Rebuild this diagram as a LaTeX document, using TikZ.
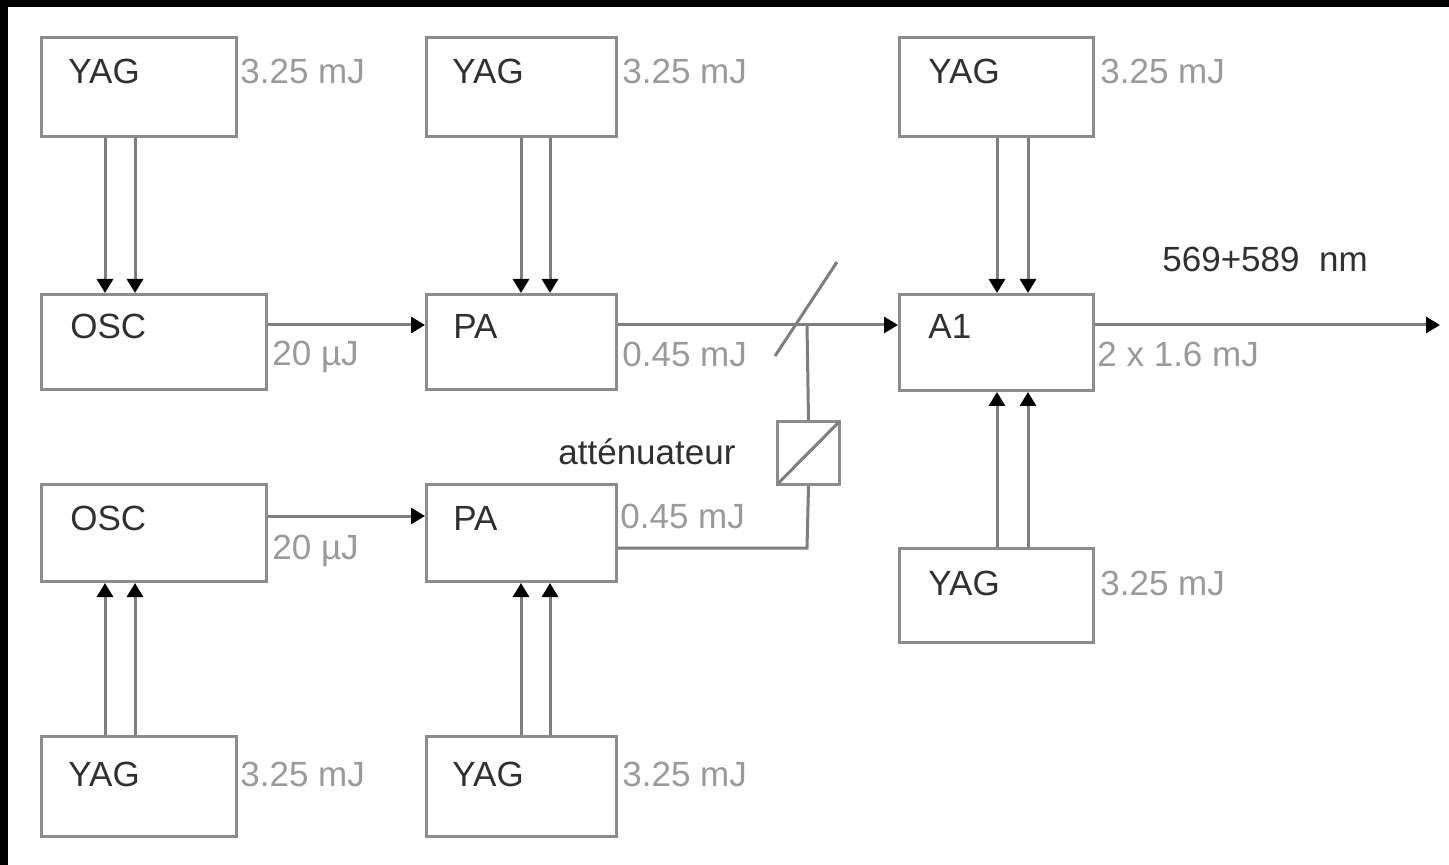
\documentclass[tikz,border=0pt]{standalone}
\usepackage{fontspec}
\setmainfont{Liberation Sans}
\usetikzlibrary{arrows.meta,calc}
\definecolor{boxgray}{HTML}{8C8C8C}
\definecolor{linegray}{HTML}{7E7E7E}
\definecolor{txtdark}{HTML}{303030}
\definecolor{txtlight}{HTML}{9A9A9A}
\begin{document}
\begin{tikzpicture}[x=0.5pt,y=-0.5pt,
  box/.style={draw=boxgray,line width=1.5pt,fill=white,rectangle,inner sep=0pt,anchor=north west},
  lab/.style={font=\fontsize{17.5}{20}\selectfont,text=txtdark,anchor=base west,inner sep=0pt},
  val/.style={font=\fontsize{17.5}{20}\selectfont,text=txtlight,anchor=base west,inner sep=0pt},
  conn/.style={draw=linegray,line width=1.5pt},
  arr/.style={conn,-{Triangle[length=7pt,width=8pt,color=black]}}]
\fill[white] (0,0) rectangle (1449,865);
\useasboundingbox (0,0) rectangle (1449,865);
\fill[black] (0,0) rectangle (1449,7);
\fill[black] (0,0) rectangle (8,865);

% boxes
\node[box,minimum width=97.5pt,minimum height=49.5pt] (yag1) at (40,36) {};
\node[box,minimum width=112.5pt,minimum height=47.5pt] (osc1) at (40,293) {};
\node[box,minimum width=95pt,minimum height=47.5pt] (pa1) at (425,293) {};
\node[box,minimum width=95pt,minimum height=49.5pt] (yag2) at (425,36) {};
\node[box,minimum width=112.5pt,minimum height=48.5pt] (osc2) at (40,483) {};
\node[box,minimum width=95pt,minimum height=48.5pt] (pa2) at (425,483) {};
\node[box,minimum width=97.5pt,minimum height=50pt] (yag3) at (40,735) {};
\node[box,minimum width=95pt,minimum height=50pt] (yag4) at (425,735) {};
\node[box,minimum width=97pt,minimum height=48pt] (a1) at (898,293) {};
\node[box,minimum width=97pt,minimum height=49.5pt] (yag5) at (898,36) {};
\node[box,minimum width=97pt,minimum height=47pt] (yag6) at (898,547) {};
\node[box,minimum width=31pt,minimum height=31.5pt] (att) at (776,420) {};

% box labels
\node[lab] (t1) at (68,84) {YAG};
\node[lab] (t2) at (452,84) {YAG};
\node[lab] (t3) at (928,84) {YAG};
\node[lab] (t4) at (70,339) {OSC};
\node[lab] (t5) at (453,339) {PA};
\node[lab] (t6) at (928,339) {A1};
\node[lab] (t7) at (70,530) {OSC};
\node[lab] (t8) at (453,530) {PA};
\node[lab] (t9) at (928,595) {YAG};
\node[lab] (t10) at (68,786) {YAG};
\node[lab] (t11) at (452,786) {YAG};
\node[lab] (t12) at (558,465) {atténuateur};
\node[lab] (t13) at (1162,272) {569+589\ \ nm};

% values
\node[val] (v1) at (240,84) {3.25 mJ};
\node[val] (v2) at (622,84) {3.25 mJ};
\node[val] (v3) at (1100,84) {3.25 mJ};
\node[val] (v4) at (272,366) {20 µJ};
\node[val] (v5) at (622,367) {0.45 mJ};
\node[val] (v6) at (1097,367) {2 x 1.6 mJ};
\node[val] (v7) at (272,559) {20 µJ};
\node[val] (v8) at (620,528) {0.45 mJ};
\node[val] (v9) at (1100,595) {3.25 mJ};
\node[val] (v10) at (240,786) {3.25 mJ};
\node[val] (v11) at (622,786) {3.25 mJ};

% column coordinates
\coordinate (c1a) at (105,0);
\coordinate (c1b) at (135,0);
\coordinate (c2a) at (521,0);
\coordinate (c2b) at (550,0);
\coordinate (c3a) at (997,0);
\coordinate (c3b) at (1028,0);
\coordinate (r1) at (0,325);
\coordinate (r2) at (0,516);
\coordinate (jn) at (807,325);
\coordinate (jb) at (807,548);
\coordinate (out) at (1440,325);
\coordinate (bs1) at (775,356);
\coordinate (bs2) at (837,262);

% pump arrows
\draw[arr] (yag1.south -| c1a) -- (osc1.north -| c1a);
\draw[arr] (yag1.south -| c1b) -- (osc1.north -| c1b);
\draw[arr] (yag2.south -| c2a) -- (pa1.north -| c2a);
\draw[arr] (yag2.south -| c2b) -- (pa1.north -| c2b);
\draw[arr] (yag5.south -| c3a) -- (a1.north -| c3a);
\draw[arr] (yag5.south -| c3b) -- (a1.north -| c3b);
\draw[arr] (yag6.north -| c3a) -- (a1.south -| c3a);
\draw[arr] (yag6.north -| c3b) -- (a1.south -| c3b);
\draw[arr] (yag3.north -| c1a) -- (osc2.south -| c1a);
\draw[arr] (yag3.north -| c1b) -- (osc2.south -| c1b);
\draw[arr] (yag4.north -| c2a) -- (pa2.south -| c2a);
\draw[arr] (yag4.north -| c2b) -- (pa2.south -| c2b);

% beam lines
\draw[arr] (osc1.east |- r1) -- (pa1.west |- r1);
\draw[arr] (osc2.east |- r2) -- (pa2.west |- r2);
\draw[arr] (pa1.east |- r1) -- (a1.west |- r1);
\draw[arr] (a1.east |- r1) -- (out);
\draw[conn] (jn) -- (att.north);
\draw[conn] (att.south) -- (jb) -- (pa2.east |- jb);
\draw[conn] (bs1) -- (bs2);
\draw[conn] (att.south west) ++(1.5,-2) -- ($(att.north east)+(-2,2)$);
\end{tikzpicture}
\end{document}
